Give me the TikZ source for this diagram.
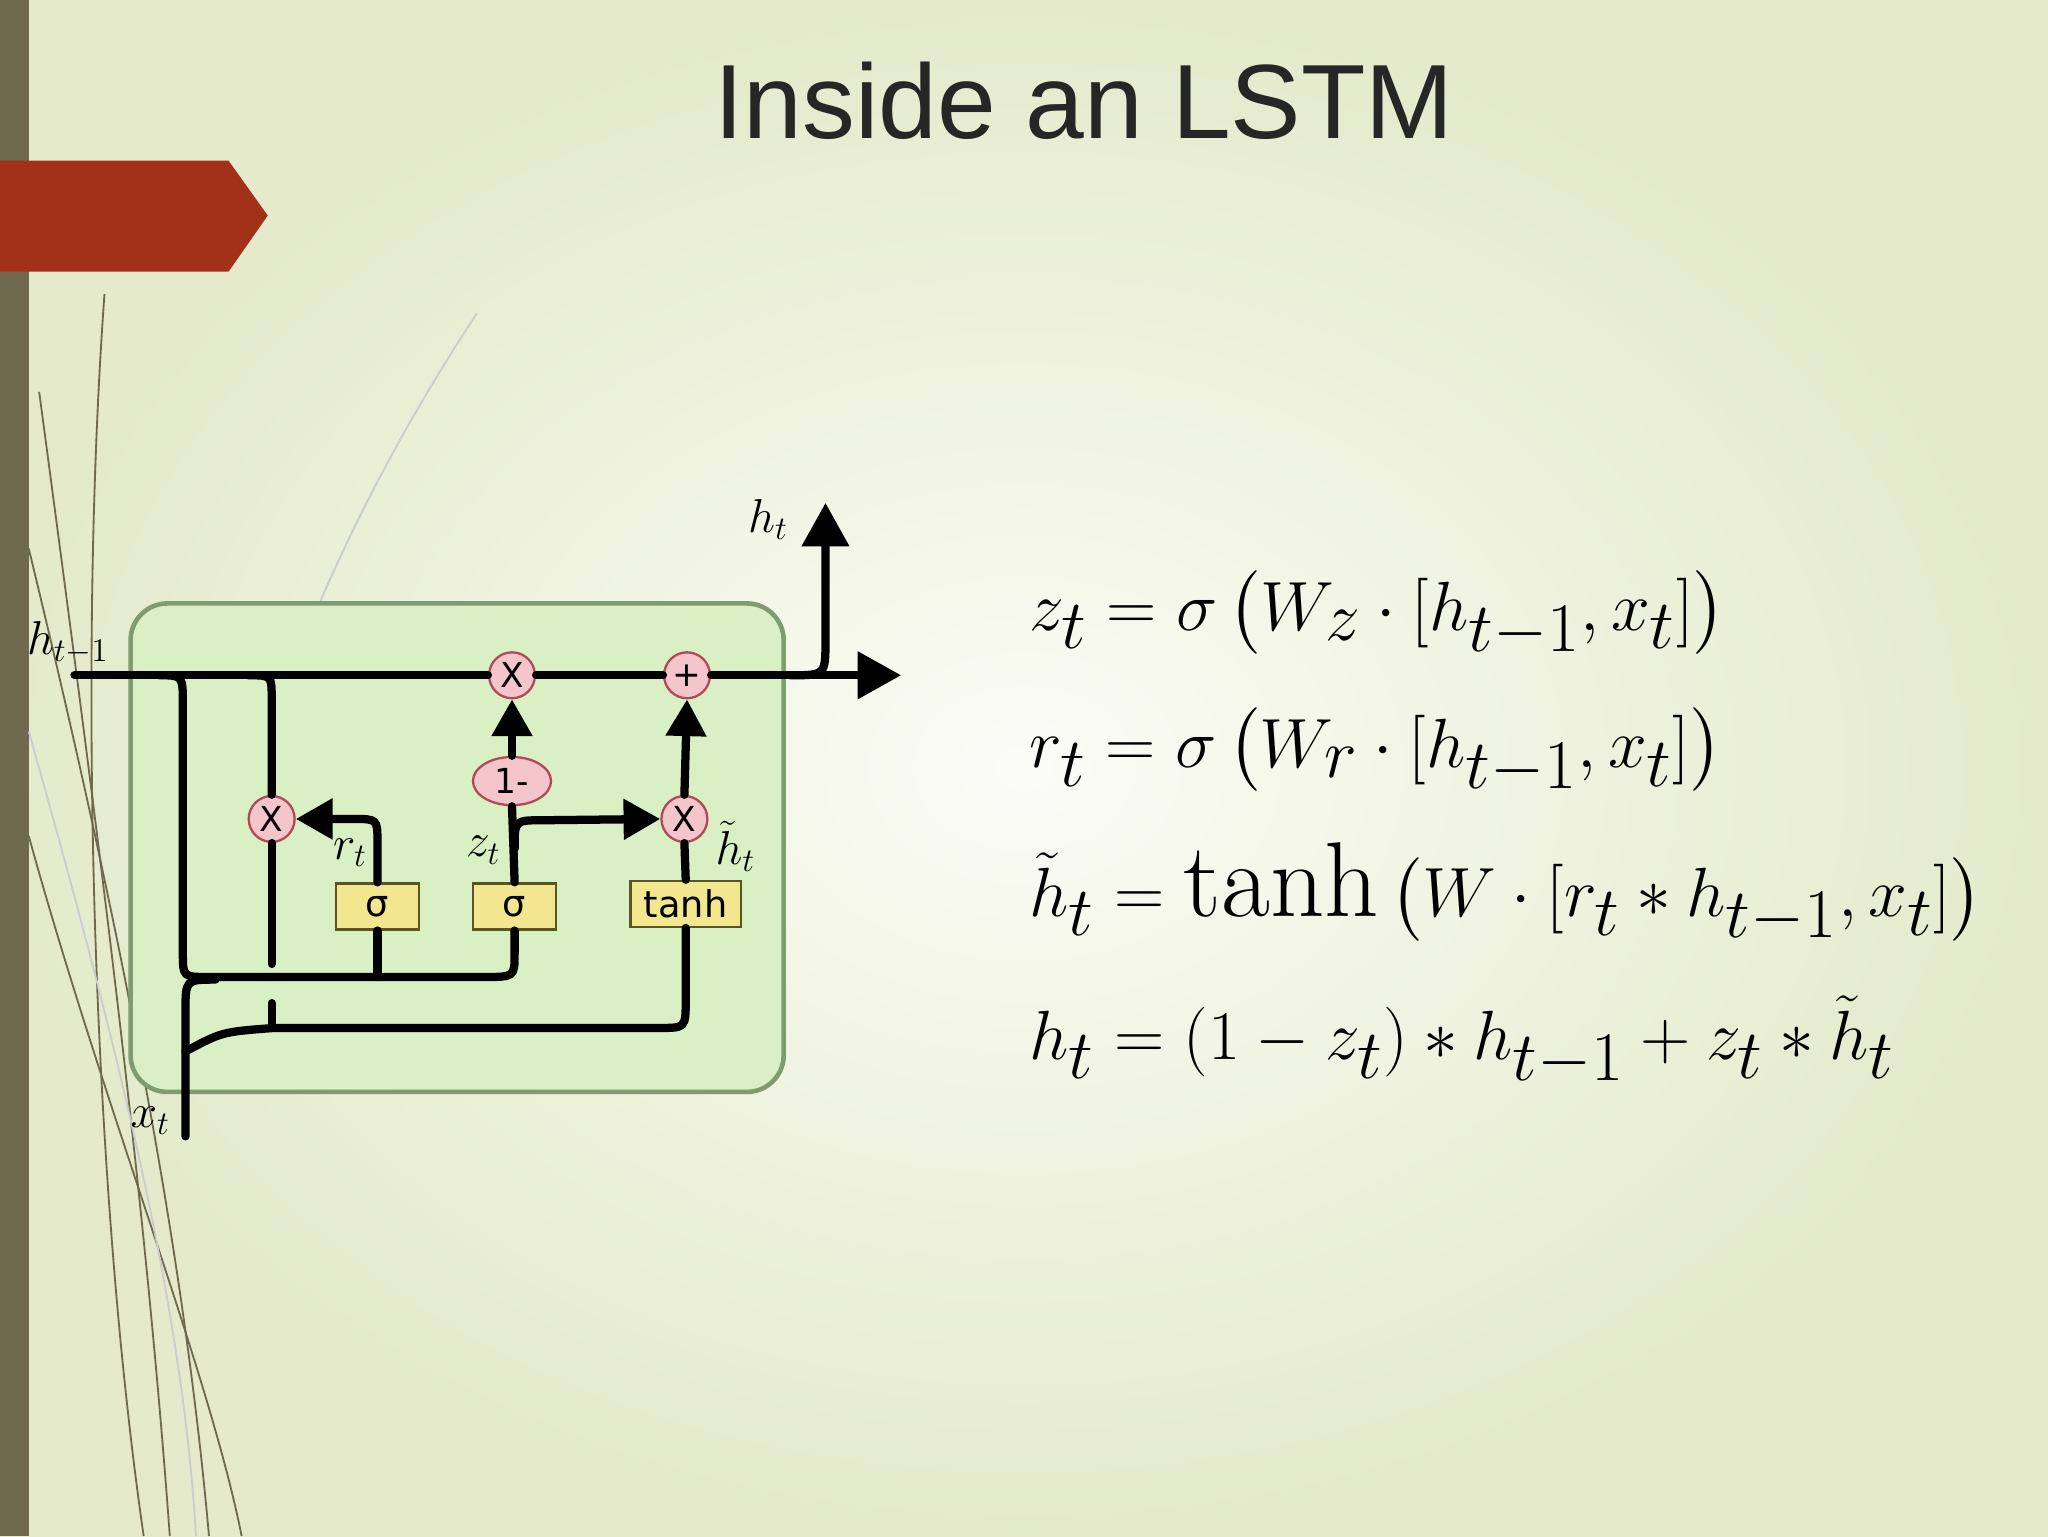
\documentclass[tikz,border=0pt]{standalone}
\usepackage{fontspec}
\usepackage{amsmath}
\usepackage{graphicx}
\setsansfont{DejaVu Sans}
\newfontfamily\titlefont{Liberation Sans}
\usetikzlibrary{arrows.meta,shapes.geometric}
\definecolor{bgedge}{HTML}{E4EACB}
\definecolor{bgmid}{HTML}{FBFCF6}
\definecolor{barc}{HTML}{6F6A4E}
\definecolor{tabc}{HTML}{A33018}
\definecolor{cellfill}{HTML}{D8F0C4}
\definecolor{celldraw}{HTML}{7E9C70}
\definecolor{opfill}{HTML}{F4C6CC}
\definecolor{opdraw}{HTML}{B04A58}
\definecolor{gatefill}{HTML}{F2E68E}
\definecolor{gatedraw}{HTML}{5A5420}
\newcommand{\eqbig}[1]{\scalebox{1.22}{#1}}
\tikzset{
  wire/.style={line width=3.6pt,line cap=round},
  arr/.style={wire,-{Triangle[length=19pt,width=20pt]}},
  sarr/.style={wire,-{Triangle[length=16pt,width=17pt]}},
  opc/.style={circle,draw=opdraw,fill=opfill,line width=1pt,minimum size=20pt,inner sep=0pt,font=\sffamily\fontsize{15}{15}\selectfont},
  gate/.style={draw=gatedraw,fill=gatefill,line width=1pt,minimum height=20pt,font=\sffamily\fontsize{16}{16}\selectfont,inner sep=2pt},
  lab/.style={font=\fontsize{20}{22}\selectfont},
  eq/.style={anchor=west,font=\fontsize{38}{42}\selectfont},
  grass/.style={draw=barc,line width=0.8pt},
  lgrass/.style={draw=gray!40,line width=0.8pt}
}
\begin{document}
\begin{tikzpicture}[x=0.2mm,y=-0.2mm]
\useasboundingbox (0,0) rectangle (1568,1176);
\shade[inner color=bgmid,outer color=bgedge] (0,0) rectangle (1568,1176);
\fill[barc] (0,0) rectangle (22,1176);
% grass
\draw[grass] (22,420) .. controls (90,700) and (140,950) .. (160,1176);
\draw[grass] (30,300) .. controls (70,600) and (110,900) .. (130,1176);
\draw[grass] (80,225) .. controls (60,500) and (70,900) .. (110,1176);
\draw[grass] (22,640) .. controls (80,850) and (160,1050) .. (185,1176);
\draw[lgrass] (365,240) .. controls (260,400) and (200,550) .. (150,750);
\draw[lgrass] (22,560) .. controls (90,800) and (140,1000) .. (150,1176);
\fill[tabc] (0,123) -- (175,123) -- (205,165) -- (175,208) -- (0,208) -- cycle;
\node[font=\titlefont\fontsize{46}{50}\selectfont,text=black!85] (title) at (830,77) {Inside an LSTM};
% cell
\draw[fill=cellfill,draw=celldraw,line width=2pt,rounded corners=16pt] (100,462) rectangle (600,836);
% nodes
\node[opc] (m1) at (392,517) {X};
\node[opc] (p1) at (526,517) {+};
\node[opc] (mr) at (208,627) {X};
\node[opc] (mh) at (524,627) {X};
\node[ellipse,draw=opdraw,fill=opfill,line width=1pt,minimum width=34pt,minimum height=21pt,inner sep=0pt,font=\sffamily\fontsize{15}{15}\selectfont] (om) at (392,598) {1-};
\node[gate,minimum width=36pt] (s1) at (289,694) {σ};
\node[gate,minimum width=36pt] (s2) at (394,694) {σ};
\node[gate,minimum width=48pt] (th) at (525,692) {tanh};
\coordinate (hin) at (57,517);
\coordinate (hout) at (690,517);
\coordinate (htop) at (632,385);
\coordinate (xin) at (142,870);
% main line
\draw[wire] (hin) -- (m1.west);
\draw[wire] (m1.east) -- (p1.west);
\draw[arr] (p1.east) -- (hout);
\draw[arr] (605,517) .. controls (632,517) .. (632,490) -- (htop);
% branch 1
\draw[wire] (122,517) .. controls (140,517) .. (140,540) -- (140,730) .. controls (140,748) .. (160,748) -- (370,748) .. controls (394,748) .. (394,730) -- (s2.south);
\draw[wire] (s1.south) -- (289,748);
% branch 2
\draw[wire] (190,517) .. controls (208,517) .. (208,535) -- (mr.north);
\draw[wire] (mr.south) -- (208,738);
\draw[wire] (208,768) -- (208,785);
% x_t
\draw[wire] (xin) -- (142,775) .. controls (142,750) .. (165,750);
\draw[wire] (142,805) .. controls (170,790) .. (210,787) -- (505,787) .. controls (525,787) .. (525,765) -- (th.south);
% reset
\draw[sarr] (s1.north) -- (289,645) .. controls (289,627) .. (270,627) -- (mr.east);
% update
\draw[wire] (s2.north) -- (om.south);
\draw[sarr] (394,650) .. controls (394,628) .. (415,628) -- (mh.west);
\draw[sarr] (om.north) -- (m1.south);
\draw[sarr] (mh.north) -- (p1.south);
\draw[wire] (th.north) -- (mh.south);
% labels
\node[lab] (lh1) at (52,492) {$h_{t-1}$};
\node[lab] (lht) at (588,398) {$h_t$};
\node[lab] (lx) at (115,858) {$x_t$};
\node[lab] (lr) at (268,653) {$r_t$};
\node[lab] (lz) at (370,651) {$z_t$};
\node[lab] (lth) at (563,648) {$\tilde h_t$};
% equations
\node[eq] (e1) at (782,470) {\eqbig{$z_t = \sigma\left(W_z \cdot [h_{t-1}, x_t]\right)$}};
\node[eq] (e2) at (782,575) {\eqbig{$r_t = \sigma\left(W_r \cdot [h_{t-1}, x_t]\right)$}};
\node[eq] (e3) at (782,684) {\eqbig{$\tilde h_t = \tanh\left(W \cdot [r_t * h_{t-1}, x_t]\right)$}};
\node[eq] (e4) at (782,797) {\eqbig{$h_t = (1 - z_t) * h_{t-1} + z_t * \tilde h_t$}};
\end{tikzpicture}
\end{document}
